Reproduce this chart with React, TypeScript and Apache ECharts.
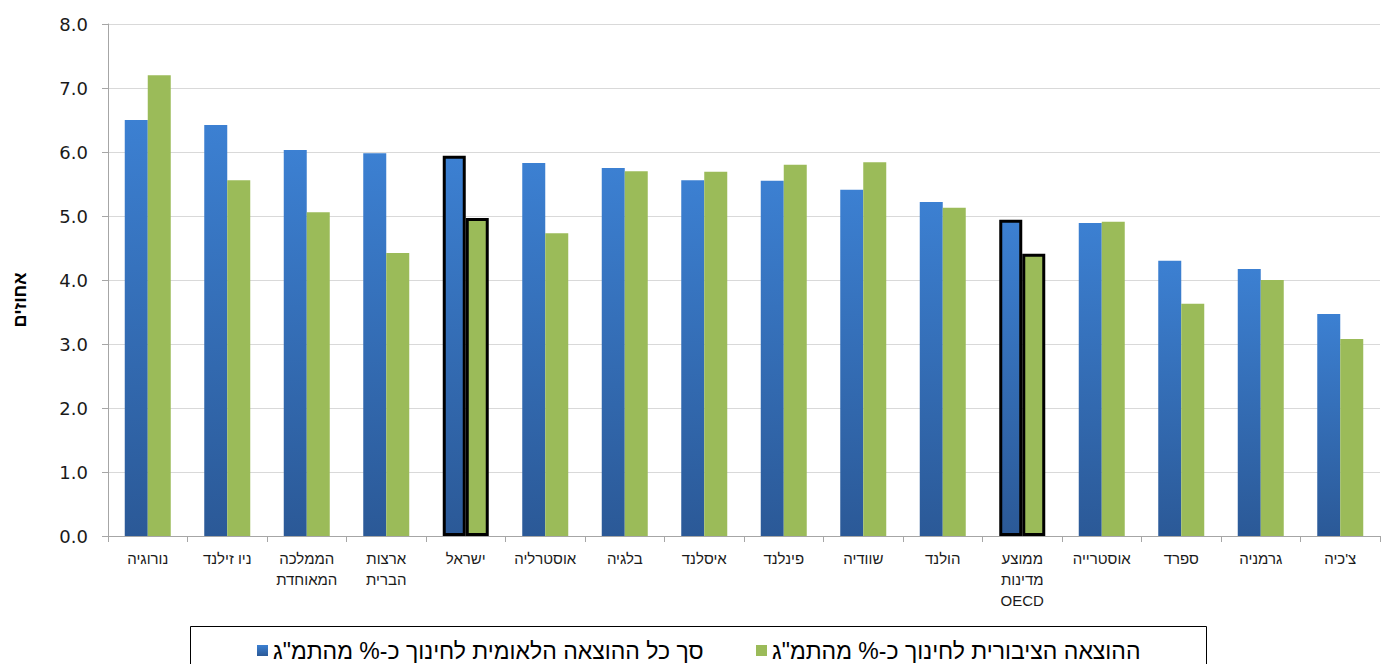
import React, { useEffect, useRef } from "react";
import * as echarts from "echarts";

const categories = [
  "נורוגיה",
  "ניו זילנד",
  "הממלכה\nהמאוחדת",
  "ארצות\nהברית",
  "ישראל",
  "אוסטרליה",
  "בלגיה",
  "איסלנד",
  "פינלנד",
  "שוודיה",
  "הולנד",
  "ממוצע\nמדינות\nOECD",
  "אוסטרייה",
  "ספרד",
  "גרמניה",
  "צ'כיה",
];

const totalName = 'סך כל ההוצאה הלאומית לחינוך כ-% מהתמ"ג';
const publicName = 'ההוצאה הציבורית לחינוך כ-% מהתמ"ג';

const totalValues = [6.5, 6.42, 6.03, 5.98, 5.94, 5.83, 5.75, 5.56, 5.55, 5.41, 5.22, 4.94, 4.89, 4.3, 4.17, 3.47];
const publicValues = [7.2, 5.56, 5.06, 4.42, 4.97, 4.73, 5.7, 5.69, 5.8, 5.84, 5.13, 4.41, 4.91, 3.63, 4.0, 3.08];

const highlighted = ["ישראל", "ממוצע\nמדינות\nOECD"];

const yAxisTitle = "אחוזים";

const HEB = "'Liberation Sans', 'DejaVu Sans', sans-serif";
const NUM = "'DejaVu Sans', 'Liberation Sans', sans-serif";

export default function App() {
  const ref = useRef<HTMLDivElement>(null);
  useEffect(() => {
    if (!ref.current) return;
    const chart = echarts.init(ref.current, undefined, { renderer: "svg" });
    const blueGrad = new echarts.graphic.LinearGradient(0, 0, 0, 1, [
      { offset: 0, color: "#3c80d2" },
      { offset: 1, color: "#2b5997" },
    ]);
    const green = "#9bbb59";
    const mk = (vals: number[], color: any) =>
      vals.map((v, i) =>
        highlighted.includes(categories[i])
          ? { value: v, itemStyle: { color, borderColor: "#000", borderWidth: 3 } }
          : { value: v }
      );
    chart.setOption({
      animation: false,
      textStyle: { fontFamily: HEB },
      grid: { left: 108, right: 1, top: 24, bottom: 128, containLabel: false },
      legend: [
        {
          left: 252,
          top: 634,
          itemWidth: 11,
          itemHeight: 11,
          itemGap: 10,
          data: [{ name: totalName, icon: "rect" }],
          textStyle: { fontSize: 23, color: "#000", fontFamily: HEB },
        },
        {
          left: 751,
          top: 634,
          itemWidth: 11,
          itemHeight: 11,
          data: [{ name: publicName, icon: "rect" }],
          textStyle: { fontSize: 23, color: "#000", fontFamily: HEB },
        },
      ],
      graphic: [
        {
          type: "rect",
          shape: { x: 190.5, y: 626.5, width: 1016, height: 60 },
          style: { fill: "none", stroke: "#000", lineWidth: 1 },
          silent: true,
        },
        {
          type: "text",
          x: 20,
          y: 300,
          rotation: Math.PI / 2,
          style: {
            text: yAxisTitle,
            fontSize: 18,
            fontWeight: "bold",
            fill: "#000",
            fontFamily: HEB,
            align: "center",
            verticalAlign: "middle",
          },
        },
      ],
      xAxis: {
        type: "category",
        data: categories,
        axisLine: { lineStyle: { color: "#a6a6a6" } },
        axisTick: { show: true, length: 6, lineStyle: { color: "#a6a6a6" } },
        axisLabel: {
          interval: 0,
          fontSize: 15,
          color: "#1a1a1a",
          margin: 12,
          lineHeight: 21,
          fontFamily: HEB,
        },
      },
      yAxis: {
        type: "value",
        min: 0,
        max: 8,
        interval: 1,
        axisLine: { show: true, lineStyle: { color: "#a6a6a6" } },
        axisTick: { show: true, length: 6, lineStyle: { color: "#a6a6a6" } },
        splitLine: { lineStyle: { color: "#d9d9d9" } },
        axisLabel: {
          fontSize: 18,
          color: "#1a1a1a",
          margin: 20,
          formatter: (v: number) => v.toFixed(1),
          fontFamily: NUM,
        },
      },
      series: [
        {
          name: totalName,
          type: "bar",
          barWidth: 23,
          barGap: "0%",
          itemStyle: { color: blueGrad },
          data: mk(totalValues, blueGrad),
        },
        {
          name: publicName,
          type: "bar",
          barWidth: 23,
          barGap: "0%",
          itemStyle: { color: green },
          data: mk(publicValues, green),
        },
      ],
    });
    return () => chart.dispose();
  }, []);
  return <div ref={ref} style={{ width: 1381, height: 664, position: "absolute", left: 0, top: 0 }} />;
}
